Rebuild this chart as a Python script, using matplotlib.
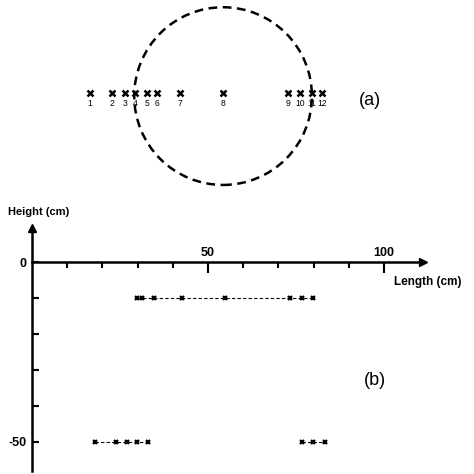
import matplotlib.pyplot as plt
from matplotlib.patches import Ellipse

plt.rcParams['font.family'] = ['Liberation Sans', 'DejaVu Sans']

# (a) sensor layout, x in cm along the same scale as (b)
sensor_ids = ["1", "2", "3", "4", "5", "6", "7", "8", "9", "10", "11", "12"]
sensor_x = [16.5, 22.7, 26.4, 29.3, 32.7, 35.5, 42.0, 54.3, 72.7, 76.1, 79.5, 82.4]
sensor_row = 46.9
circle_center = (54.3, 46.1)
circle_diam = 50.5

# (b) sensor positions, length / height in cm
upper_x = [29.7, 31.4, 34.7, 42.5, 54.8, 73.3, 76.6, 79.9]
upper_y = [-10, -10, -10, -10, -10, -10, -10, -10]
lower_left_x = [18.0, 23.9, 27.1, 29.7, 33.0]
lower_left_y = [-50, -50, -50, -50, -50]
lower_right_x = [76.6, 79.9, 83.2]
lower_right_y = [-50, -50, -50]

fig = plt.figure(figsize=(4.74, 4.74), dpi=100)
ax = fig.add_axes([0, 0, 1, 1])
ax.set_xlim(-9.09, 125.6)
ax.set_ylim(-58.9, 72.8)

# axes through the origin, with arrow heads
for side in ['top', 'right']:
    ax.spines[side].set_visible(False)
ax.spines['left'].set_position(('data', 0))
ax.spines['bottom'].set_position(('data', 0))
ax.spines['left'].set_bounds(-58, 9)
ax.spines['bottom'].set_bounds(0, 110)
ax.spines['left'].set_linewidth(1.8)
ax.spines['bottom'].set_linewidth(1.8)
ax.plot(111, 0, '>k', ms=6, clip_on=False)
ax.plot(0, 9.5, '^k', ms=6, clip_on=False)

ax.set_xticks([50, 100])
ax.set_xticklabels(['50', '100'], fontsize=9, fontweight='bold')
ax.set_xticks([10, 20, 30, 40, 60, 70, 80, 90], minor=True)
ax.tick_params(axis='x', which='major', direction='out', length=8, width=1.5, pad=-19)
ax.tick_params(axis='x', which='minor', direction='out', length=4.5, width=1.5)

ax.set_yticks([0, -50])
ax.set_yticklabels(['0', '-50'], fontsize=9, fontweight='bold')
ax.set_yticks([-10, -20, -30, -40], minor=True)
ax.tick_params(axis='y', which='major', direction='in', length=5, width=1.5, pad=4)
ax.tick_params(axis='y', which='minor', direction='in', length=5, width=1.5)

ax.text(-6.8, 14, 'Height (cm)', fontsize=8, fontweight='bold', va='center', ha='left')
ax.text(103, -5.6, 'Length (cm)', fontsize=8.5, fontweight='bold', va='center', ha='left')

# panel (a)
ax.add_patch(Ellipse(circle_center, circle_diam, circle_diam * 3.52 / 3.6,
                     fill=False, ec='black', lw=1.8, ls=(0, (3.5, 2.2))))
ax.plot(sensor_x, [sensor_row] * len(sensor_x), 'x', color='black', ms=4, mew=1.8)
for sx, sid in zip(sensor_x, sensor_ids):
    ax.text(sx, sensor_row - 2.8, sid, fontsize=6.2, ha='center', va='center')
ax.text(96, 45, '(a)', fontsize=13, ha='center', va='center')

# panel (b)
style = dict(color='black', ls=(0, (3, 2)), lw=0.8, marker='x', ms=3.2, mew=1.6)
ax.plot(upper_x, upper_y, **style)
ax.plot(lower_left_x, lower_left_y, **style)
ax.plot(lower_right_x, lower_right_y, **style)
ax.text(97.4, -32.8, '(b)', fontsize=13, ha='center', va='center')

fig.savefig('out.png', dpi=100)
